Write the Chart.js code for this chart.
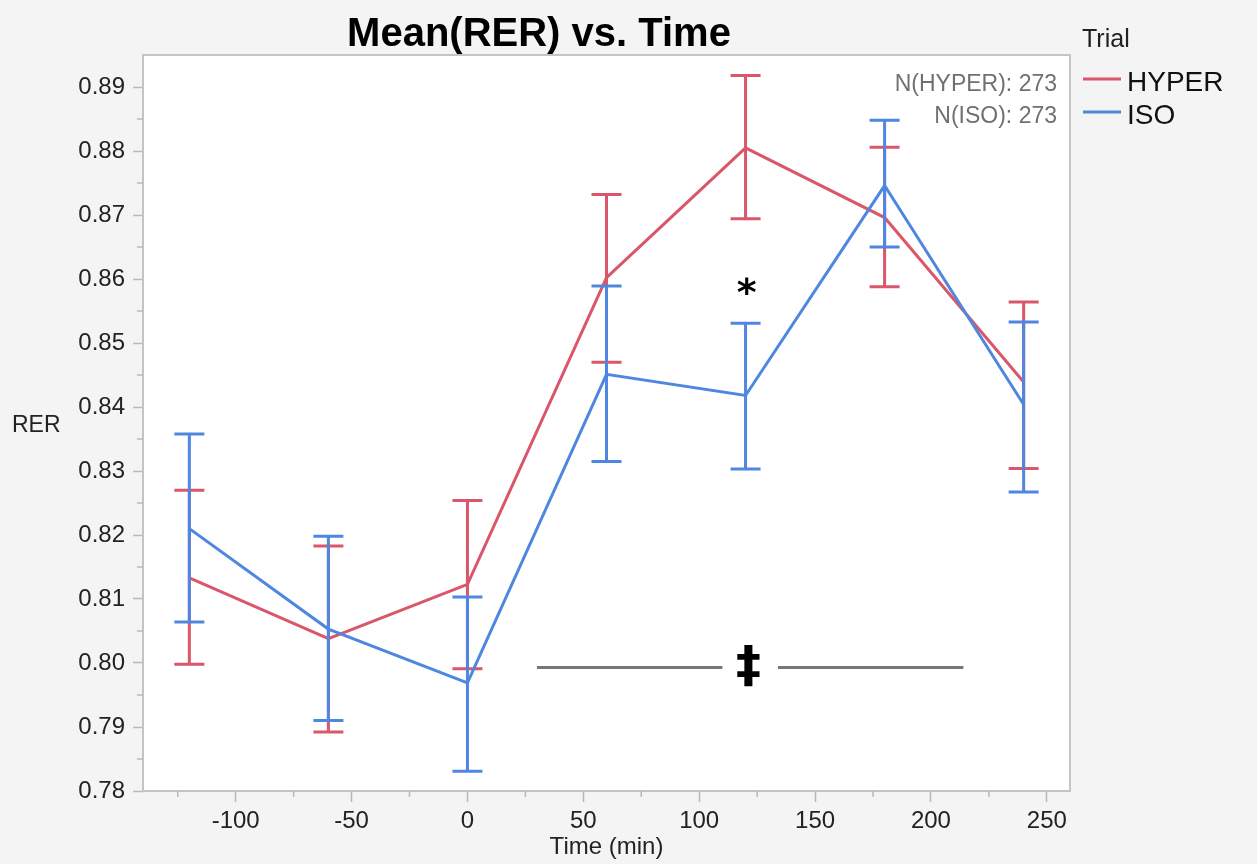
<!DOCTYPE html>
<html>
<head>
<meta charset="utf-8">
<title>Mean(RER) vs. Time</title>
<script src="https://cdn.jsdelivr.net/npm/chart.js@4"></script>
<style>
  html, body { margin: 0; padding: 0; background: #f4f4f4; }
  canvas { display: block; }
</style>
</head>
<body>
<canvas id="rer-chart" width="1257" height="864"></canvas>
<script>
// valores
const times = [-120, -60, 0, 60, 120, 180, 240];

const hyperMean  = [0.8133, 0.8038, 0.8123, 0.8602, 0.8805, 0.8696, 0.8439];
const hyperUpper = [0.8270, 0.8183, 0.8254, 0.8732, 0.8918, 0.8806, 0.8564];
const hyperLower = [0.7998, 0.7892, 0.7991, 0.8470, 0.8694, 0.8588, 0.8304];

const isoMean  = [0.8210, 0.8053, 0.7969, 0.8451, 0.8418, 0.8746, 0.8404];
const isoUpper = [0.8358, 0.8198, 0.8103, 0.8589, 0.8531, 0.8848, 0.8533];
const isoLower = [0.8064, 0.7910, 0.7831, 0.8315, 0.8303, 0.8650, 0.8267];

const trials = ['HYPER', 'ISO'];
const nCounts = [273, 273];

const xMajorTicks = [-100, -50, 0, 50, 100, 150, 200, 250];
const xMinorTicks = [-125, -75, -25, 25, 75, 125, 175, 225];
const yMajorTicks = [0.78, 0.79, 0.80, 0.81, 0.82, 0.83, 0.84, 0.85, 0.86, 0.87, 0.88, 0.89];
const yMinorTicks = [0.785, 0.795, 0.805, 0.815, 0.825, 0.835, 0.845, 0.855, 0.865, 0.875, 0.885];

// marcas de significância
const starMark = { x: 120.5, y: 0.8588 };
const daggerMark = { x: 121.3, y: 0.7995 };
const sigLineY = 0.7993;
const sigSegments = [[30, 110], [134, 214]];

const RED = '#d9566b';
const BLUE = '#4f86e0';
const FONT = "'Liberation Sans', Arial, Helvetica, sans-serif";

function toPoints(xs, ys) {
    return xs.map((x, i) => ({ x: x, y: ys[i] }));
}

// fundo, moldura, barras de erro e textos
const decorPlugin = {
    id: 'decor',
    beforeDraw(chart) {
        const { ctx, chartArea: a } = chart;
        ctx.save();
        ctx.fillStyle = '#f4f4f4';
        ctx.fillRect(0, 0, chart.width, chart.height);
        ctx.fillStyle = '#ffffff';
        ctx.fillRect(a.left, a.top, a.right - a.left, a.bottom - a.top);
        ctx.restore();
    },
    afterDatasetDraw(chart, args) {
        const ds = chart.data.datasets[args.index];
        const { ctx } = chart;
        const xs = chart.scales.x, ys = chart.scales.y;
        ctx.save();
        ctx.strokeStyle = ds.borderColor;
        ctx.lineWidth = 3;
        ctx.lineCap = 'butt';
        ds.data.forEach((p, i) => {
            const px = xs.getPixelForValue(p.x);
            const top = ys.getPixelForValue(ds.errUpper[i]);
            const bot = ys.getPixelForValue(ds.errLower[i]);
            ctx.beginPath();
            ctx.moveTo(px, top);
            ctx.lineTo(px, bot);
            ctx.moveTo(px - 15, top);
            ctx.lineTo(px + 15, top);
            ctx.moveTo(px - 15, bot);
            ctx.lineTo(px + 15, bot);
            ctx.stroke();
        });
        ctx.restore();
    },
    afterDraw(chart) {
        const { ctx, chartArea: a } = chart;
        const xs = chart.scales.x, ys = chart.scales.y;
        ctx.save();

        // moldura
        ctx.strokeStyle = '#c4c4c4';
        ctx.lineWidth = 2;
        ctx.strokeRect(a.left, a.top, a.right - a.left, a.bottom - a.top);

        // ticks menores
        ctx.lineWidth = 1.5;
        ctx.strokeStyle = '#b8b8b8';
        ctx.beginPath();
        xMinorTicks.forEach(v => {
            const px = xs.getPixelForValue(v);
            ctx.moveTo(px, a.bottom);
            ctx.lineTo(px, a.bottom + 6);
        });
        yMinorTicks.forEach(v => {
            const py = ys.getPixelForValue(v);
            ctx.moveTo(a.left, py);
            ctx.lineTo(a.left - 6, py);
        });
        ctx.stroke();

        // linhas de significância
        ctx.strokeStyle = '#777777';
        ctx.lineWidth = 3;
        ctx.beginPath();
        sigSegments.forEach(seg => {
            const yy = ys.getPixelForValue(sigLineY);
            ctx.moveTo(xs.getPixelForValue(seg[0]), yy);
            ctx.lineTo(xs.getPixelForValue(seg[1]), yy);
        });
        ctx.stroke();

        ctx.fillStyle = '#000000';
        ctx.textAlign = 'center';
        ctx.textBaseline = 'middle';
        ctx.font = `bold 38px 'DejaVu Sans', ${FONT}`;
        ctx.fillText('*', xs.getPixelForValue(starMark.x), ys.getPixelForValue(starMark.y) + 8);
        ctx.font = `bold 50px 'DejaVu Sans', ${FONT}`;
        ctx.fillText('\u2021', xs.getPixelForValue(daggerMark.x), ys.getPixelForValue(daggerMark.y) + 2);

        // título
        ctx.textBaseline = 'alphabetic';
        ctx.font = `bold 40px ${FONT}`;
        ctx.fillStyle = '#000000';
        ctx.fillText('Mean(RER) vs. Time', 539, 46);

        // rótulo do eixo y
        ctx.textAlign = 'left';
        ctx.font = `23px ${FONT}`;
        ctx.fillStyle = '#222222';
        ctx.fillText('RER', 12, 432);

        // contagens
        ctx.textAlign = 'right';
        ctx.font = `23px ${FONT}`;
        ctx.fillStyle = '#707070';
        ctx.fillText(`N(${trials[0]}): ${nCounts[0]}`, 1057, 91);
        ctx.fillText(`N(${trials[1]}): ${nCounts[1]}`, 1057, 123);

        // legenda
        ctx.textAlign = 'left';
        ctx.fillStyle = '#222222';
        ctx.font = `25px ${FONT}`;
        ctx.fillText('Trial', 1082, 47);
        const legendColors = [RED, BLUE];
        trials.forEach((t, i) => {
            const ly = 79 + i * 33;
            ctx.strokeStyle = legendColors[i];
            ctx.lineWidth = 3;
            ctx.beginPath();
            ctx.moveTo(1083, ly);
            ctx.lineTo(1121, ly);
            ctx.stroke();
            ctx.fillStyle = '#111111';
            ctx.font = `28px ${FONT}`;
            ctx.fillText(t, 1127, ly + 12);
        });

        ctx.restore();
    }
};

const ctx = document.getElementById('rer-chart').getContext('2d');
const rerChart = new Chart(ctx, {
    type: 'line',
    data: {
        datasets: [
            {
                label: trials[0],
                data: toPoints(times, hyperMean),
                errUpper: hyperUpper,
                errLower: hyperLower,
                borderColor: RED,
                borderWidth: 3,
                pointRadius: 0,
                tension: 0,
                order: 2
            },
            {
                label: trials[1],
                data: toPoints(times, isoMean),
                errUpper: isoUpper,
                errLower: isoLower,
                borderColor: BLUE,
                borderWidth: 3,
                pointRadius: 0,
                tension: 0,
                order: 1
            }
        ]
    },
    options: {
        responsive: false,
        animation: false,
        devicePixelRatio: 1,
        layout: {
            padding: { left: 0, top: 55, right: 187, bottom: 0 }
        },
        plugins: {
            legend: { display: false },
            title: { display: false },
            tooltip: { enabled: false }
        },
        scales: {
            x: {
                type: 'linear',
                min: -140,
                max: 260,
                afterBuildTicks: (scale) => {
                    scale.ticks = xMajorTicks.map(v => ({ value: v }));
                },
                afterFit: (scale) => { scale.height = 73; },
                grid: {
                    drawOnChartArea: false,
                    drawTicks: true,
                    tickLength: 11,
                    tickColor: '#b8b8b8',
                    tickWidth: 1.5
                },
                border: { display: false },
                ticks: {
                    padding: 5,
                    maxRotation: 0,
                    autoSkip: false,
                    color: '#222222',
                    font: { family: FONT, size: 24 },
                    callback: (v) => String(v)
                },
                title: {
                    display: true,
                    text: 'Time (min)',
                    color: '#222222',
                    font: { family: FONT, size: 24 },
                    padding: { top: 0, bottom: 2 }
                }
            },
            y: {
                type: 'linear',
                min: 0.78,
                max: 0.895,
                afterBuildTicks: (scale) => {
                    scale.ticks = yMajorTicks.map(v => ({ value: v }));
                },
                afterFit: (scale) => { scale.width = 143; },
                grid: {
                    drawOnChartArea: false,
                    drawTicks: true,
                    tickLength: 10,
                    tickColor: '#b8b8b8',
                    tickWidth: 1.5
                },
                border: { display: false },
                ticks: {
                    padding: 8,
                    autoSkip: false,
                    color: '#222222',
                    font: { family: FONT, size: 24 },
                    callback: (v) => Number(v).toFixed(2)
                }
            }
        }
    },
    plugins: [decorPlugin]
});
</script>
</body>
</html>
